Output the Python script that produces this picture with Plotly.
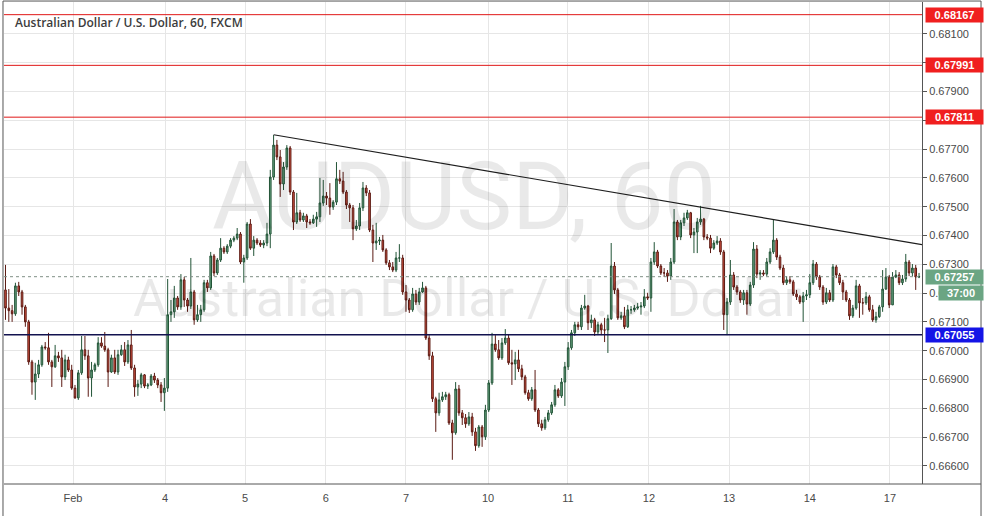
import plotly.graph_objects as go

# ---------------- data (AUD/USD, 1h candles, FXCM) ----------------
first_open = 0.67211
close = [
    0.67148, 0.67139, 0.67128, 0.67225, 0.67204, 0.67152, 0.67100, 0.66961, 0.66891, 0.66919,
    0.66951, 0.67013, 0.67010, 0.66961, 0.66944, 0.66982, 0.66975, 0.66909, 0.66968, 0.66933,
    0.66870, 0.66836, 0.66923, 0.67003, 0.66982, 0.66905, 0.66933, 0.66951, 0.67027, 0.67016,
    0.67003, 0.66926, 0.66975, 0.66926, 0.66986, 0.67003, 0.66961, 0.67020, 0.66940, 0.66874,
    0.66884, 0.66916, 0.66877, 0.66881, 0.66912, 0.66898, 0.66881, 0.66854, 0.66870, 0.67125,
    0.67135, 0.67183, 0.67152, 0.67246, 0.67176, 0.67155, 0.67204, 0.67107, 0.67125,
    0.67142, 0.67236, 0.67218, 0.67329,
    0.67270, 0.67315, 0.67356, 0.67343, 0.67363, 0.67384, 0.67391, 0.67405, 0.67308, 0.67322,
    0.67440, 0.67356, 0.67384, 0.67374, 0.67367, 0.67374, 0.67405, 0.67603, 0.67714, 0.67673,
    0.67579, 0.67638, 0.67704, 0.67551, 0.67447, 0.67479, 0.67454, 0.67468, 0.67447, 0.67444,
    0.67457, 0.67465, 0.67513, 0.67537, 0.67530, 0.67499, 0.67516, 0.67597, 0.67589, 0.67551,
    0.67506, 0.67496, 0.67423, 0.67433, 0.67496, 0.67565, 0.67548, 0.67419, 0.67374, 0.67381,
    0.67384, 0.67350, 0.67305, 0.67291, 0.67280, 0.67322, 0.67322, 0.67204, 0.67176, 0.67142,
    0.67197, 0.67169, 0.67204, 0.67218, 0.67044, 0.66982, 0.66833, 0.66784, 0.66829, 0.66840,
    0.66847, 0.66749, 0.66715, 0.66867, 0.66784, 0.66767, 0.66746, 0.66770,
    0.66718, 0.66670, 0.66735, 0.66701, 0.66794, 0.66888, 0.67023, 0.67003, 0.66975, 0.67027, 0.67044,
    0.66958, 0.66954, 0.66968, 0.66937, 0.66909, 0.66854, 0.66833, 0.66864, 0.66794, 0.66746,
    0.66732, 0.66760, 0.66784, 0.66812, 0.66864, 0.66843, 0.66891, 0.66944, 0.67010, 0.67062,
    0.67090, 0.67083, 0.67148, 0.67155, 0.67097, 0.67107, 0.67065, 0.67090, 0.67072, 0.67072,
    0.67111, 0.67294, 0.67211, 0.67114, 0.67121, 0.67083, 0.67142, 0.67142, 0.67148, 0.67152,
    0.67155, 0.67187, 0.67183, 0.67308, 0.67343, 0.67294, 0.67270, 0.67270, 0.67259, 0.67308,
    0.67447, 0.67395, 0.67444, 0.67461, 0.67479, 0.67402, 0.67412, 0.67447, 0.67457, 0.67395,
    0.67391, 0.67356, 0.67374,
    0.67381, 0.67343, 0.67125, 0.67169, 0.67263, 0.67221,
    0.67204, 0.67176, 0.67201, 0.67162, 0.67228, 0.67353, 0.67266, 0.67270, 0.67266, 0.67308,
    0.67343, 0.67384, 0.67325, 0.67287, 0.67236, 0.67246, 0.67239, 0.67197, 0.67187, 0.67169,
    0.67190, 0.67194, 0.67236, 0.67301, 0.67256, 0.67221, 0.67169, 0.67201, 0.67176, 0.67291,
    0.67263, 0.67236, 0.67204, 0.67176, 0.67121, 0.67148, 0.67225, 0.67166, 0.67166, 0.67187,
    0.67142, 0.67107, 0.67118, 0.67152,
    0.67214, 0.67256, 0.67159, 0.67256, 0.67263,
    0.67236, 0.67249, 0.67308, 0.67270, 0.67287, 0.67256, 0.67257,
]
high = [
    0.67298, 0.67214, 0.67159, 0.67236, 0.67239, 0.67211, 0.67159, 0.67107, 0.66968, 0.66958,
    0.66968, 0.67020, 0.67030, 0.67062, 0.66968, 0.67020, 0.66996, 0.67003, 0.66986, 0.66979,
    0.66951, 0.66881, 0.66933, 0.67051, 0.67051, 0.67003, 0.66961, 0.66958, 0.67047, 0.67047,
    0.67065, 0.67010, 0.66986, 0.67003, 0.67003, 0.67020, 0.67030, 0.67037, 0.67072, 0.66951,
    0.66898, 0.66923, 0.66919, 0.66888, 0.66919, 0.66923, 0.66905, 0.66891, 0.66905, 0.67249,
    0.67176, 0.67225, 0.67190, 0.67266, 0.67256, 0.67183, 0.67322, 0.67211, 0.67159,
    0.67159, 0.67246, 0.67246, 0.67343,
    0.67336, 0.67322, 0.67391, 0.67363, 0.67370, 0.67391, 0.67398, 0.67426, 0.67412, 0.67333,
    0.67447, 0.67457, 0.67398, 0.67391, 0.67384, 0.67384, 0.67444, 0.67628, 0.67749, 0.67732,
    0.67697, 0.67655, 0.67714, 0.67711, 0.67558, 0.67548, 0.67489, 0.67479, 0.67475, 0.67457,
    0.67472, 0.67482, 0.67600, 0.67593, 0.67551, 0.67582, 0.67523, 0.67655, 0.67628, 0.67621,
    0.67558, 0.67513, 0.67506, 0.67454, 0.67513, 0.67586, 0.67575, 0.67558, 0.67437, 0.67444,
    0.67395, 0.67402, 0.67356, 0.67315, 0.67308, 0.67343, 0.67370, 0.67333, 0.67228, 0.67183,
    0.67218, 0.67211, 0.67218, 0.67239, 0.67225, 0.67054, 0.66996, 0.66840, 0.66854, 0.66857,
    0.66857, 0.66854, 0.66760, 0.66891, 0.66881, 0.66794, 0.66780, 0.66787,
    0.66784, 0.66732, 0.66742, 0.66742, 0.66812, 0.66898, 0.67062, 0.67054, 0.67037, 0.67044, 0.67075,
    0.67058, 0.67003, 0.66996, 0.67003, 0.66951, 0.66916, 0.66864, 0.66874, 0.66933, 0.66801,
    0.66760, 0.66770, 0.66794, 0.66822, 0.66881, 0.66870, 0.66905, 0.66961, 0.67030, 0.67072,
    0.67100, 0.67100, 0.67159, 0.67194, 0.67159, 0.67125, 0.67114, 0.67100, 0.67097, 0.67114,
    0.67125, 0.67374, 0.67308, 0.67218, 0.67135, 0.67152, 0.67159, 0.67155, 0.67159, 0.67166,
    0.67169, 0.67214, 0.67201, 0.67322, 0.67377, 0.67350, 0.67301, 0.67287, 0.67280, 0.67322,
    0.67492, 0.67454, 0.67454, 0.67479, 0.67489, 0.67482, 0.67426, 0.67461, 0.67503, 0.67461,
    0.67405, 0.67402, 0.67384,
    0.67398, 0.67391, 0.67350, 0.67183, 0.67315, 0.67273,
    0.67228, 0.67211, 0.67211, 0.67211, 0.67239, 0.67377, 0.67367, 0.67280, 0.67280, 0.67322,
    0.67356, 0.67454, 0.67391, 0.67333, 0.67298, 0.67259, 0.67259, 0.67246, 0.67211, 0.67194,
    0.67204, 0.67211, 0.67266, 0.67315, 0.67308, 0.67263, 0.67228, 0.67218, 0.67211, 0.67301,
    0.67298, 0.67270, 0.67246, 0.67211, 0.67183, 0.67159, 0.67246, 0.67232, 0.67183, 0.67204,
    0.67194, 0.67159, 0.67135, 0.67159,
    0.67280, 0.67287, 0.67263, 0.67273, 0.67280,
    0.67273, 0.67263, 0.67336, 0.67315, 0.67301, 0.67298, 0.67270,
]
low = [
    0.67107, 0.67100, 0.67100, 0.67121, 0.67190, 0.67125, 0.67083, 0.66951, 0.66847, 0.66829,
    0.66905, 0.66944, 0.67003, 0.66951, 0.66874, 0.66940, 0.66961, 0.66874, 0.66898, 0.66926,
    0.66864, 0.66833, 0.66829, 0.66916, 0.66968, 0.66840, 0.66840, 0.66926, 0.66944, 0.67010,
    0.66996, 0.66874, 0.66923, 0.66919, 0.66916, 0.66982, 0.66947, 0.66954, 0.66933, 0.66840,
    0.66843, 0.66870, 0.66870, 0.66867, 0.66877, 0.66888, 0.66870, 0.66822, 0.66791, 0.66857,
    0.67100, 0.67114, 0.67142, 0.67142, 0.67152, 0.67135, 0.67145, 0.67090, 0.67100,
    0.67100, 0.67135, 0.67204, 0.67211,
    0.67259, 0.67263, 0.67308, 0.67336, 0.67336, 0.67356, 0.67377, 0.67384, 0.67301, 0.67236,
    0.67315, 0.67350, 0.67329, 0.67367, 0.67360, 0.67356, 0.67363, 0.67356, 0.67593, 0.67662,
    0.67534, 0.67558, 0.67628, 0.67541, 0.67419, 0.67440, 0.67447, 0.67447, 0.67426, 0.67437,
    0.67440, 0.67430, 0.67447, 0.67503, 0.67506, 0.67472, 0.67489, 0.67506, 0.67579, 0.67544,
    0.67492, 0.67447, 0.67384, 0.67416, 0.67419, 0.67485, 0.67537, 0.67412, 0.67308, 0.67350,
    0.67367, 0.67343, 0.67298, 0.67280, 0.67273, 0.67273, 0.67308, 0.67194, 0.67135, 0.67131,
    0.67135, 0.67159, 0.67159, 0.67201, 0.67037, 0.66968, 0.66822, 0.66718, 0.66774, 0.66822,
    0.66829, 0.66742, 0.66621, 0.66708, 0.66774, 0.66742, 0.66732, 0.66739,
    0.66704, 0.66652, 0.66663, 0.66666, 0.66690, 0.66787, 0.66881, 0.66996, 0.66968, 0.66968, 0.67020,
    0.66951, 0.66881, 0.66898, 0.66926, 0.66898, 0.66847, 0.66826, 0.66826, 0.66787, 0.66735,
    0.66722, 0.66725, 0.66753, 0.66777, 0.66805, 0.66836, 0.66836, 0.66808, 0.66933, 0.67003,
    0.67051, 0.67072, 0.67072, 0.67142, 0.67072, 0.67079, 0.67051, 0.67054, 0.67054, 0.67030,
    0.66992, 0.67107, 0.67197, 0.67107, 0.67107, 0.67075, 0.67079, 0.67128, 0.67135, 0.67142,
    0.67125, 0.67148, 0.67176, 0.67135, 0.67298, 0.67287, 0.67263, 0.67256, 0.67239, 0.67246,
    0.67301, 0.67384, 0.67384, 0.67433, 0.67454, 0.67391, 0.67339, 0.67339, 0.67437, 0.67384,
    0.67384, 0.67339, 0.67350,
    0.67367, 0.67333, 0.67072, 0.67054, 0.67159, 0.67211,
    0.67194, 0.67166, 0.67159, 0.67125, 0.67155, 0.67218, 0.67252, 0.67246, 0.67259, 0.67259,
    0.67301, 0.67336, 0.67315, 0.67280, 0.67228, 0.67228, 0.67232, 0.67190, 0.67176, 0.67162,
    0.67100, 0.67176, 0.67183, 0.67228, 0.67246, 0.67211, 0.67159, 0.67162, 0.67169, 0.67169,
    0.67252, 0.67228, 0.67176, 0.67169, 0.67107, 0.67114, 0.67142, 0.67114, 0.67125, 0.67159,
    0.67135, 0.67100, 0.67097, 0.67114,
    0.67135, 0.67211, 0.67148, 0.67159, 0.67252,
    0.67228, 0.67228, 0.67239, 0.67259, 0.67259, 0.67211, 0.67252,
]
assert len(close) == len(high) == len(low)

# hourly bars are contiguous: each bar opens at the previous close
open_ = [first_open] + close[:-1]
bar_index = list(range(len(close)))

day_labels = ["Feb", "4", "5", "6", "7", "10", "11", "12", "13", "14", "17"]
day_pos = [20.4, 48.2, 72.4, 96.8, 121.0, 145.8, 169.9, 194.4, 218.6, 243.0, 267.2]
price_ticks = [0.666, 0.667, 0.668, 0.669, 0.670, 0.671, 0.672, 0.673,
               0.674, 0.675, 0.676, 0.677, 0.678, 0.679, 0.680, 0.681]
resistance_levels = [0.68167, 0.67991, 0.67811]
support_level = 0.67055
last_price = 0.67257
countdown = "37:00"
trend_x = [81, 276.9]
trend_y = [0.67750, 0.67368]

X_RANGE = [-0.45, 276.9]
Y_RANGE = [0.66537, 0.68211]

FONT = "Liberation Sans"
TXT = "#4a4a4a"

fig = go.Figure()
fig.add_trace(go.Candlestick(
    x=bar_index, open=open_, high=high, low=low, close=close,
    increasing=dict(line=dict(color="#225437", width=1), fillcolor="#6BA583"),
    decreasing=dict(line=dict(color="#5B1A13", width=1), fillcolor="#D75442"),
    whiskerwidth=0, showlegend=False, hoverinfo="skip",
))
fig.add_trace(go.Scatter(
    x=trend_x, y=trend_y, mode="lines", line=dict(color="#1e1e1e", width=1.2),
    showlegend=False, hoverinfo="skip",
))

shapes = []
for lvl in resistance_levels:
    shapes.append(dict(type="line", xref="paper", yref="y", x0=0, x1=1, y0=lvl, y1=lvl,
                       line=dict(color="#e01818", width=1)))
shapes.append(dict(type="line", xref="paper", yref="y", x0=0, x1=1, y0=support_level, y1=support_level,
                   line=dict(color="#12124f", width=1.5)))
shapes.append(dict(type="line", xref="paper", yref="y", x0=0, x1=1, y0=last_price, y1=last_price,
                   line=dict(color="#7f8f85", width=1, dash="dot")))
# frame
shapes += [
    dict(type="line", xref="paper", yref="paper", x0=-0.0011, x1=-0.0011, y0=-0.07, y1=1.002,
         line=dict(color="#555", width=1)),
    dict(type="line", xref="paper", yref="paper", x0=-0.0011, x1=1.0643, y0=1.002, y1=1.002,
         line=dict(color="#555", width=1)),
    dict(type="line", xref="paper", yref="paper", x0=1.0643, x1=1.0643, y0=-0.07, y1=1.002,
         line=dict(color="#555", width=1)),
    dict(type="line", xref="paper", yref="paper", x0=0, x1=1.0643, y0=0, y1=0,
         line=dict(color="#555", width=1)),
]

annotations = [
    dict(text="AUDUSD, 60", xref="paper", yref="paper", x=0.501, y=0.595,
         xanchor="center", yanchor="middle", showarrow=False,
         font=dict(family="Roboto", size=94, color="rgba(0,0,0,0.085)")),
    dict(text="Australian Dollar / U.S. Dollar", xref="paper", yref="paper", x=0.504, y=0.385,
         xanchor="center", yanchor="middle", showarrow=False,
         font=dict(family="Roboto", size=52, color="rgba(0,0,0,0.085)")),
    dict(text="Australian Dollar / U.S. Dollar, 60, FXCM", xref="paper", yref="paper",
         x=0.0093, y=0.958, xanchor="left", yanchor="middle", showarrow=False,
         font=dict(family="Open Sans", size=12, color="#3c3c3c", weight=600)),
]

def price_box(val, color, text=None, yshift=0, width=55, xshift=3):
    return dict(text="<b>%s</b>" % (text if text is not None else "%.5f" % val),
                xref="paper", yref="y", x=1, y=val, xanchor="left", yanchor="middle",
                xshift=xshift, yshift=yshift, showarrow=False, bgcolor=color,
                width=width, height=12, borderpad=1, align="center",
                font=dict(family=FONT, size=11, color="white"))

for lvl in resistance_levels:
    annotations.append(price_box(lvl, "#f01f1f"))
annotations.append(price_box(support_level, "#1414e6"))
annotations.append(price_box(last_price, "#6ba583"))
annotations.append(price_box(last_price, "#6ba583", text=countdown, yshift=-16, width=42, xshift=16))

fig.update_layout(
    width=988, height=516,
    margin=dict(l=4, r=66, t=2, b=32),
    paper_bgcolor="white", plot_bgcolor="white",
    showlegend=False,
    shapes=shapes, annotations=annotations,
    xaxis=dict(range=X_RANGE, tickmode="array", tickvals=day_pos, ticktext=day_labels,
               showgrid=True, gridcolor="#e6e6e6", gridwidth=1, zeroline=False,
               showline=False, ticks="", rangeslider=dict(visible=False),
               ticklabelstandoff=6,
               tickfont=dict(family=FONT, size=11, color=TXT), fixedrange=True),
    yaxis=dict(range=Y_RANGE, side="right", tickmode="array", tickvals=price_ticks,
               tickformat=".5f", showgrid=True, gridcolor="#e6e6e6", gridwidth=1,
               zeroline=False, showline=True, linecolor="#555", linewidth=1,
               ticks="outside", ticklen=4, tickcolor="#555",
               tickfont=dict(family=FONT, size=11, color=TXT), fixedrange=True),
)

fig.write_html(
    "out.html",
    config={"displayModeBar": False},
    post_script="document.body.style.margin='0';document.body.style.overflow='hidden';",
)
